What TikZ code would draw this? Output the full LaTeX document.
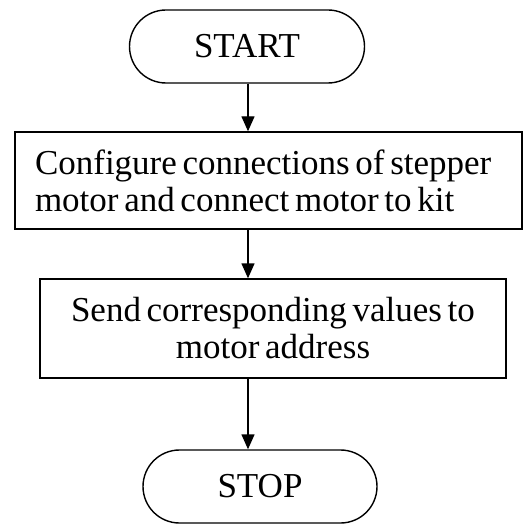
\documentclass[tikz,border=0pt]{standalone}
\usepackage{fontspec}
\setmainfont{Liberation Serif}[WordSpace=0.65]
\usetikzlibrary{shapes.misc,arrows.meta}

\tikzset{
  terminal/.style={draw, rounded rectangle, minimum width=235pt, minimum height=73pt, inner sep=0pt},
  process/.style={draw, rectangle, minimum height=97pt, inner sep=0pt},
  flow/.style={-{Triangle[width=13pt,length=15pt]}},
}

\begin{document}
\begin{tikzpicture}[x=1pt, y=-1pt, line width=1.4pt, font=\fontsize{35}{37}\selectfont]
        \useasboundingbox (0,0) rectangle (523,529);

        % --- Axe des flèches ---
        \coordinate (axis) at (248,0);

        % --- Blocs ---
        \node[terminal] (start) at (247,46.5) {START};
        \node[process, text width=467pt, inner xsep=20pt, align=flush left] (config) at (268.5,180.5)
            {Configure connections of stepper\\motor and connect motor to kit};
        \node[process, minimum width=466pt, minimum height=99pt, align=center] (send) at (273,328.5)
            {Send corresponding values to\\motor address};
        \node[terminal, minimum width=234pt] (stop) at (260,486.5) {STOP};

        % --- Flèches ---
        \draw[flow] (start.south -| axis) -- (config.north -| axis);
        \draw[flow] (config.south -| axis) -- (send.north -| axis);
        \draw[flow] (send.south -| axis) -- (stop.north -| axis);
\end{tikzpicture}
\end{document}
